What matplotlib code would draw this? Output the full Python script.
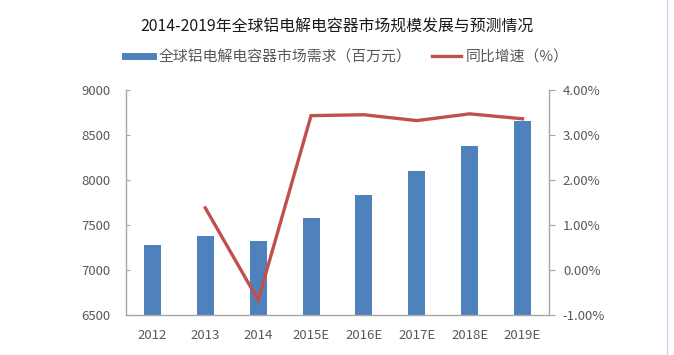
import matplotlib
matplotlib.use('Agg')
import matplotlib.pyplot as plt
from matplotlib.lines import Line2D
from matplotlib.ticker import FuncFormatter

plt.rcParams['font.family'] = ['Noto Sans CJK SC', 'DejaVu Sans']

years = ['2012', '2013', '2014', '2015E', '2016E', '2017E', '2018E', '2019E']
demand = [7278, 7378, 7326, 7574, 7830, 8103, 8374, 8656]
growth_years = years[1:]
growth = [1.38, -0.67, 3.43, 3.45, 3.32, 3.47, 3.36]

bar_color = '#4f81bd'
line_color = '#c0504d'
axis_gray = '#a6a6a6'
text_gray = '#595959'

fig = plt.figure(figsize=(6.74, 3.55), dpi=100)
ax = fig.add_axes([126/674, 40/355, 423/674, 225/355])
ax2 = ax.twinx()

x = range(len(years))
ax.bar(x, demand, width=0.32, color=bar_color, zorder=2)
ax.set_ylim(6500, 9000)
ax.set_yticks([6500, 7000, 7500, 8000, 8500, 9000])
ax.set_xlim(-0.5, len(years) - 0.5)
ax.set_xticks(list(x))
ax.set_xticklabels(years)

gx = [years.index(y) for y in growth_years]
ax2.plot(gx, growth, color=line_color, linewidth=2.4, solid_joinstyle='miter', zorder=3)
ax2.set_ylim(-1, 4)
ax2.set_yticks([-1, 0, 1, 2, 3, 4])
ax2.yaxis.set_major_formatter(FuncFormatter(lambda v, p: '%.2f%%' % v))

for a in (ax, ax2):
	for s in a.spines.values():
		s.set_visible(False)
ax.spines['left'].set_visible(True)
ax.spines['bottom'].set_visible(True)
ax2.spines['right'].set_visible(True)
for s in (ax.spines['left'], ax.spines['bottom'], ax2.spines['right']):
	s.set_color(axis_gray)
	s.set_linewidth(1.0)

ax.tick_params(axis='y', direction='in', length=3, color=axis_gray, labelsize=9.5, labelcolor=text_gray, pad=11)
ax.tick_params(axis='x', length=0, labelsize=9.5, labelcolor=text_gray, pad=10)
ax2.tick_params(axis='y', direction='out', length=4, color=axis_gray, labelsize=9.5, labelcolor=text_gray, pad=6)

fig.text(337/674, 1 - 27/355, '2014-2019年全球铝电解电容器市场规模发展与预测情况',
	ha='center', va='center', fontsize=11.4, color='#1a1a1a')

handles = [
	Line2D([], [], color=bar_color, linewidth=5),
	Line2D([], [], color=line_color, linewidth=2.4),
]
fig.legend(handles, ['全球铝电解电容器市场需求（百万元）', '同比增速（%）'],
	loc='center', bbox_to_anchor=(347/674, 1 - 57/355), ncol=2, frameon=False,
	fontsize=10.7, labelcolor=text_gray, handlelength=1.9, columnspacing=1.4,
	handletextpad=0.35, borderpad=0, borderaxespad=0)

fig.add_artist(Line2D([667/674, 667/674], [0, 1], color='#c5d9f1', linewidth=1))

plt.savefig('out.png', dpi=100)
